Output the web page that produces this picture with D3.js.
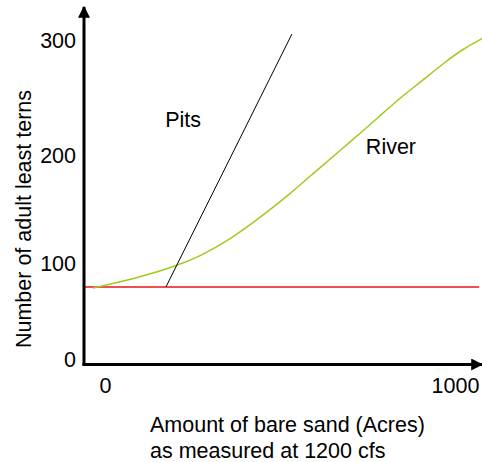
<!DOCTYPE html>
<html>
<head>
<meta charset="utf-8">
<script src="https://cdn.jsdelivr.net/npm/d3@7"></script>
<style>
  html, body { margin: 0; padding: 0; background: #fff; }
  svg { display: block; font-family: "Liberation Sans", Arial, Helvetica, sans-serif; }
</style>
</head>
<body>
<script>
// ---- data ----
const xTicks = [0, 1000];
const yTicks = [0, 100, 200, 300];
const riverX = [-34, 100, 203, 271, 354, 443, 529, 606, 700, 786, 837, 900, 977, 1023, 1077];
const riverY = [75, 86, 98, 107, 122, 143, 165, 187, 212, 235, 249, 264, 283, 293, 302];
const pitsX = [174, 534];
const pitsY = [76, 306];
const baselineX = [-60, 1069];
const baselineY = [76, 76];
const labels = [
  {text: "Pits", x: 223, y: 232},
  {text: "River", x: 817, y: 208}
];

// ---- layout ----
const W = 482, H = 462;
const fontSize = 21.5;
const svg = d3.select("body").append("svg").attr("width", W).attr("height", H);

const x = d3.scaleLinear().domain([0, 1000]).range([105, 455]);
// The reference's y tick labels are unevenly spaced; use a piecewise scale through them
const y = d3.scaleLinear().domain([0, 100, 200, 300]).range([360, 264, 156, 41]);

const axisX0 = 84, axisY0 = 364.5;

// arrow marker
const defs = svg.append("defs");
defs.append("marker")
  .attr("id", "arrow").attr("viewBox", "0 0 10 10")
  .attr("refX", 9).attr("refY", 5)
  .attr("markerWidth", 4).attr("markerHeight", 4)
  .attr("markerUnits", "strokeWidth")
  .attr("orient", "auto")
  .append("path").attr("d", "M0,0 L10,5 L0,10 Z").attr("fill", "#000");

// red horizontal line
svg.append("line")
  .attr("x1", Math.max(axisX0, x(baselineX[0]))).attr("x2", x(baselineX[1]))
  .attr("y1", y(baselineY[0])).attr("y2", y(baselineY[1]))
  .attr("stroke", "#e8141a").attr("stroke-width", 1.6);

// river curve
const riverData = riverX.map((v, i) => [v, riverY[i]]);
svg.append("path")
  .datum(riverData)
  .attr("d", d3.line().x(d => x(d[0])).y(d => y(d[1])).curve(d3.curveBasis))
  .attr("fill", "none").attr("stroke", "#9fcc1c").attr("stroke-width", 1.5);

// pits line
svg.append("line")
  .attr("x1", x(pitsX[0])).attr("y1", y(pitsY[0]))
  .attr("x2", x(pitsX[1])).attr("y2", y(pitsY[1]))
  .attr("stroke", "#000").attr("stroke-width", 1);

// axes lines with arrows
svg.append("line")
  .attr("x1", axisX0).attr("y1", axisY0 + 1.5).attr("x2", axisX0).attr("y2", 7)
  .attr("stroke", "#000").attr("stroke-width", 3).attr("marker-end", "url(#arrow)");
svg.append("line")
  .attr("x1", axisX0 - 1.5).attr("y1", axisY0).attr("x2", 482).attr("y2", axisY0)
  .attr("stroke", "#000").attr("stroke-width", 3).attr("marker-end", "url(#arrow)");

// tick labels via d3 axes
const gy = svg.append("g").attr("transform", `translate(${axisX0},0)`)
  .call(d3.axisLeft(y).tickValues(yTicks).tickSize(0).tickPadding(8).tickFormat(d3.format("d")));
gy.select(".domain").remove();
gy.selectAll("text").attr("font-size", fontSize).attr("fill", "#000")
  .attr("font-family", "'Liberation Sans', Arial, sans-serif");

const gx = svg.append("g").attr("transform", `translate(0,${axisY0})`)
  .call(d3.axisBottom(x).tickValues(xTicks).tickSize(0).tickPadding(13.5).tickFormat(d3.format("d")));
gx.select(".domain").remove();
gx.selectAll("text").attr("font-size", fontSize).attr("fill", "#000")
  .attr("font-family", "'Liberation Sans', Arial, sans-serif");

// series labels
svg.selectAll("text.lbl").data(labels).enter().append("text")
  .attr("class", "lbl")
  .attr("x", d => x(d.x)).attr("y", d => y(d.y))
  .attr("text-anchor", "middle").attr("dy", "0.35em")
  .attr("font-size", fontSize).attr("fill", "#000")
  .text(d => d.text);

// axis titles
const xt = svg.append("text")
  .attr("x", 150).attr("y", 432)
  .attr("font-size", fontSize).attr("fill", "#000");
xt.append("tspan").attr("x", 150).attr("y", 432).text("Amount of bare sand (Acres)");
xt.append("tspan").attr("x", 150).attr("y", 458).text("as measured at 1200 cfs");

svg.append("text")
  .attr("transform", "translate(31,219) rotate(-90)")
  .attr("text-anchor", "middle")
  .attr("font-size", fontSize).attr("fill", "#000")
  .text("Number of adult least terns");
</script>
</body>
</html>
